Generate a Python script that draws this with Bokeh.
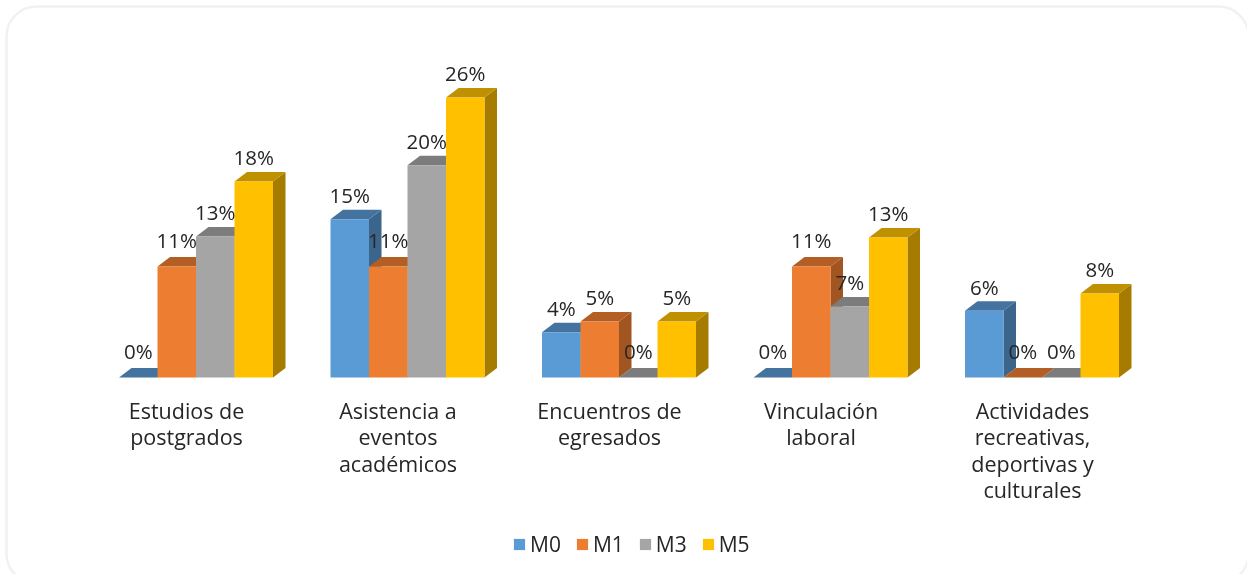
from bokeh.plotting import figure
from bokeh.models import BoxAnnotation, Legend, LegendItem, Range1d
from bokeh.core.properties import value
from bokeh.embed import file_html
from bokeh.resources import INLINE

categories = ["Estudios de\npostgrados", "Asistencia a\neventos\nacadémicos",
              "Encuentros de\negresados", "Vinculación\nlaboral",
              "Actividades\nrecreativas,\ndeportivas y\nculturales"]
series = ["M0", "M1", "M3", "M5"]
m0 = [0, 14.7, 4.2, 0, 6.2]
m1 = [10.3, 10.3, 5.2, 10.3, 0]
m3 = [13.1, 19.7, 0, 6.6, 0]
m5 = [18.2, 26, 5.2, 13, 7.8]
m0_labels = ["0%", "15%", "4%", "0%", "6%"]
m1_labels = ["11%", "11%", "5%", "11%", "0%"]
m3_labels = ["13%", "20%", "0%", "7%", "0%"]
m5_labels = ["18%", "26%", "5%", "13%", "8%"]
front = ["#5B9BD5", "#ED7D31", "#A5A5A5", "#FFC000"]
top_c = ["#44739F", "#B25E24", "#7C7C7C", "#BF9000"]
side_c = ["#3C658C", "#A15520", "#707070", "#A67C00"]

W, H = 1247, 574
PX_PER_CAT = 211.5
PX_PER_PCT = 10.77
X0, Y0 = 195.5, 377          # pixel of first group's centre, pixel of the baseline
FONT = "Open Sans"
TEXT = "#262626"

p = figure(width=W, height=H, output_backend="svg", toolbar_location=None,
           min_border=0, outline_line_color=None, background_fill_color="white",
           border_fill_color="white",
           x_range=Range1d(-X0 / PX_PER_CAT, (W - X0) / PX_PER_CAT),
           y_range=Range1d(-(H - Y0) / PX_PER_PCT, Y0 / PX_PER_PCT))
p.axis.visible = False
p.grid.visible = False
p.styles = {"position": "fixed", "left": "0px", "top": "0px"}

p.add_layout(BoxAnnotation(left=(6 - X0) / PX_PER_CAT, right=(1248 - X0) / PX_PER_CAT,
                           top=(Y0 - 6) / PX_PER_PCT, bottom=(Y0 - 583) / PX_PER_PCT,
                           fill_color="white", fill_alpha=1,
                           line_color="#D2D2D2", line_width=2.5,
                           border_radius=30, level="underlay"))

BAR = 38.5 / PX_PER_CAT
DX = 12.5 / PX_PER_CAT
DY = 9.5 / PX_PER_PCT

values = [m0, m1, m3, m5]
labels = [m0_labels, m1_labels, m3_labels, m5_labels]
fronts = []
for s, vals in enumerate(values):
    lefts = [g + (s - 2) * BAR for g in range(len(vals))]
    rights = [l + BAR for l in lefts]
    p.patches([[r, r + DX, r + DX, r] for r, v in zip(rights, vals)],
              [[0, DY, v + DY, v] for v in vals],
              fill_color=side_c[s], line_color=None)
    p.patches([[l, r, r + DX, l + DX] for l, r in zip(lefts, rights)],
              [[v, v, v + DY, v + DY] for v in vals],
              fill_color=top_c[s], line_color=None)
    fronts.append(p.quad(left=lefts, right=rights, bottom=0, top=vals,
                         fill_color=front[s], line_color=None))

for s, vals in enumerate(values):
    lifts = [-27 if t in ("0%", "11%") else -24 for t in labels[s]]
    p.text([g + (s - 2) * BAR + BAR / 2 for g in range(len(vals))], vals, text=labels[s],
           text_font=value(FONT), text_font_size="20.5px", text_color=TEXT,
           text_align="center", text_baseline="middle", y_offset=lifts)

for g, cat in enumerate(categories):
    for i, line in enumerate(cat.split("\n")):
        p.text([g - 9.5 / PX_PER_CAT], [0], text=[line], text_font=value(FONT),
               text_font_size="21.5px", text_color=TEXT, text_align="center",
               text_baseline="middle", y_offset=33 + i * 26.4)

legend = Legend(items=[LegendItem(label=n, renderers=[r]) for n, r in zip(series, fronts)],
                orientation="horizontal", location=(512, 16), background_fill_alpha=0,
                border_line_color=None, glyph_width=14, glyph_height=14,
                label_text_font=FONT, label_text_font_size="21px", label_text_color=TEXT,
                label_standoff=4, spacing=14, padding=0, margin=0)
p.add_layout(legend, "center")

open("out.html", "w").write(file_html(p, INLINE))
